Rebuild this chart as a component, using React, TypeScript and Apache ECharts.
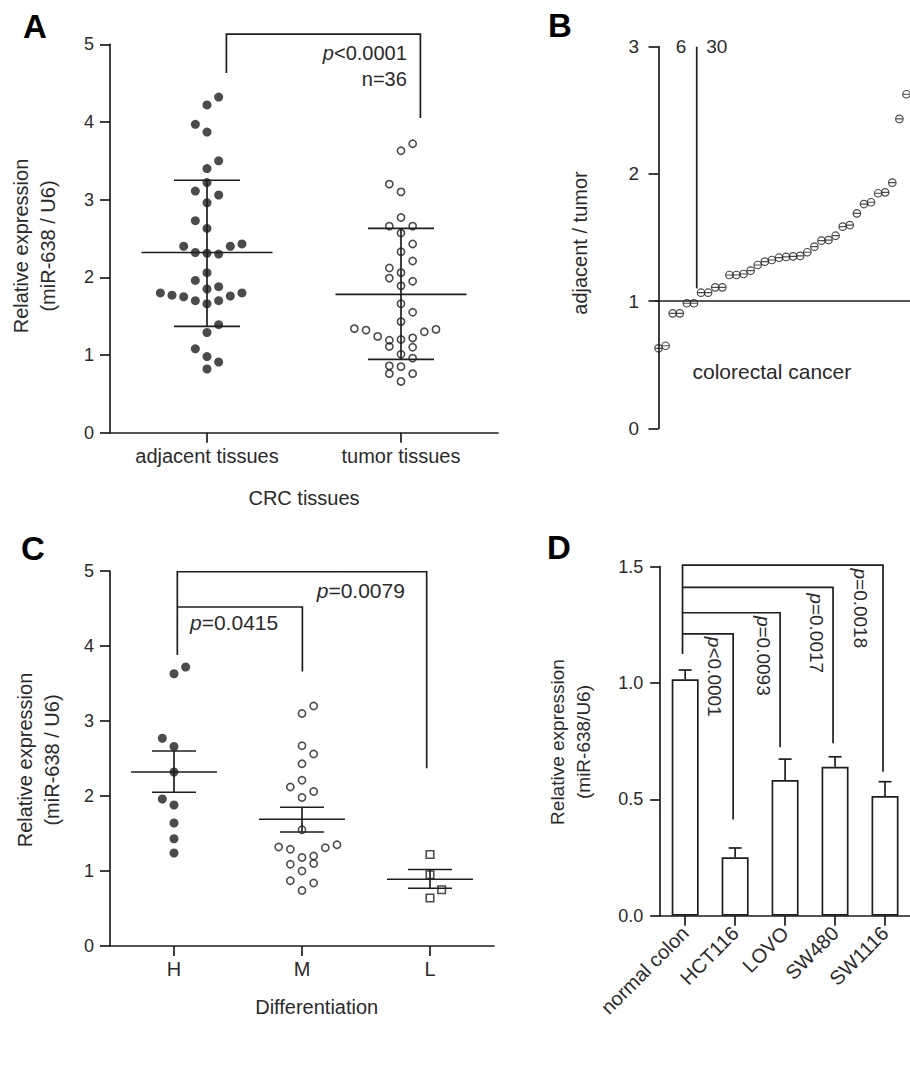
import React, { useEffect, useRef } from "react";
import * as echarts from "echarts";

const FONT = '"Liberation Sans", Arial, Helvetica, sans-serif';
const INK = "#1e1e1e";
const TXT = "#2a2a2a";

// ---------- Panel A ----------
const aCategories = ["adjacent tissues", "tumor tissues"];
const aAdjacentValues = [4.32, 4.22, 3.97, 3.87, 3.5, 3.4, 3.22, 3.11, 3.06, 2.96, 2.73, 2.63, 2.4, 2.4, 2.43, 2.32, 2.31, 2.3, 2.06, 1.96, 1.88, 1.85, 1.8, 1.77, 1.75, 1.7, 1.66, 1.7, 1.76, 1.8, 1.39, 1.29, 1.08, 0.98, 0.91, 0.82];
const aAdjacentLanes = [1, 0, -1, 0, 1, 0, 0, -1, 1, 0, -1, 0, -2, 2, 3, -1, 0, 1, 0, -1, 1, 0, -4, -3, -2, -1, 0, 1, 2, 3, 1, 0, -1, 0, 1, 0];
const aTumorValues = [3.72, 3.63, 3.2, 3.1, 2.77, 2.66, 2.66, 2.57, 2.43, 2.33, 2.21, 2.12, 2.06, 1.99, 1.95, 1.89, 1.66, 1.55, 1.43, 1.34, 1.32, 1.24, 1.19, 1.2, 1.22, 1.3, 1.33, 1.11, 1.1, 1.01, 0.96, 0.86, 0.85, 0.76, 0.76, 0.66];
const aTumorLanes = [1, 0, -1, 0, 0, -1, 1, 0, 1, 0, 1, -1, 0, -1, 1, 0, 0, 1, 0, -4, -3, -2, -1, 0, 1, 2, 3, -1, 1, 0, 1, -1, 0, -1, 1, 0];
const aMean = [2.32, 1.78];
const aLow = [1.37, 0.945];
const aHigh = [3.25, 2.63];
const aBrackets = [[[0.6, 4.63], [0.6, 5.13], [1.6, 5.13], [1.6, 4.05]]];
const aNoteTexts = ["{i|p}<0.0001", "n=36"];
const aNotePos = [[1.53, 4.89], [1.53, 4.55]];

// ---------- Panel B ----------
const bRatios = [0.629, 0.649, 0.904, 0.904, 0.983, 0.983, 1.066, 1.066, 1.108, 1.108, 1.205, 1.205, 1.213, 1.239, 1.284, 1.31, 1.323, 1.341, 1.347, 1.352, 1.355, 1.384, 1.428, 1.475, 1.48, 1.514, 1.585, 1.598, 1.69, 1.763, 1.777, 1.848, 1.855, 1.931, 2.432, 2.626];
const bDivider = [[[5.39, 3.0], [5.39, 1.1]]];
const bNoteTexts = ["6", "30", "colorectal cancer"];
const bNotePos = [[3.17, 3.0], [8.21, 3.0], [16.0, 0.445]];
const bNoteSizes = [19, 19, 21];

// ---------- Panel C ----------
const cCategories = ["H", "M", "L"];
const cHValues = [3.72, 3.63, 2.77, 2.66, 2.32, 1.96, 1.88, 1.64, 1.43, 1.24];
const cHLanes = [1, 0, -1, 0, 0, -1, 0, 0, 0, 0];
const cMValues = [3.2, 3.1, 2.67, 2.56, 2.43, 2.21, 2.12, 2.06, 1.98, 1.55, 1.32, 1.29, 1.18, 1.2, 1.31, 1.35, 1.09, 1.1, 1.0, 0.87, 0.84, 0.74];
const cMLanes = [1, 0, 0, 1, 0, 0, -1, 1, 0, 0, -2, -1, 0, 1, 2, 3, -1, 1, 0, -1, 1, 0];
const cLValues = [1.22, 0.95, 0.75, 0.64];
const cLLanes = [0, 0, 1, 0];
const cMean = [2.32, 1.69, 0.89];
const cLow = [2.05, 1.52, 0.77];
const cHigh = [2.6, 1.85, 1.02];
const cBrackets = [
  [[0.526, 3.88], [0.526, 4.99], [2.474, 4.99], [2.474, 2.37]],
  [[0.526, 4.52], [1.503, 4.52], [1.503, 3.66]],
];
const cNoteTexts = ["{i|p}=0.0415", "{i|p}=0.0079"];
const cNotePos = [[0.625, 4.31], [1.615, 4.74]];

// ---------- Panel D ----------
const dCategories = ["normal colon", "HCT116", "LOVO", "SW480", "SW1116"];
const dValues = [1.016, 0.251, 0.583, 0.64, 0.514];
const dErrors = [0.04, 0.04, 0.09, 0.043, 0.062];
const dBrackets = [
  [[0.447, 1.125], [0.447, 1.507], [4.46, 1.507], [4.46, 0.619]],
  [[0.447, 1.411], [3.46, 1.411], [3.46, 0.741]],
  [[0.447, 1.302], [2.4, 1.302], [2.4, 0.724]],
  [[0.447, 1.211], [1.46, 1.211], [1.46, 0.414]],
];
const dNoteTexts = ["{i|p}<0.0001", "{i|p}=0.0093", "{i|p}=0.0017", "{i|p}=0.0018"];
const dNotePos = [[1.093, 1.027], [2.07, 1.117], [3.12, 1.214], [4.0, 1.321]];

// ---------- helpers ----------
const lineStyle = { color: INK, width: 1.7 };

function yAxisDef(gridIndex: number, max: number, interval: number, fontSize: number, margin: number, formatter?: any) {
  return {
    type: "value",
    gridIndex,
    min: 0,
    max,
    interval,
    axisLine: { show: true, lineStyle },
    axisTick: { show: true, length: 10, lineStyle },
    axisLabel: { fontSize, color: TXT, fontFamily: FONT, margin, formatter },
    splitLine: { show: false },
  };
}

function catAxisDef(gridIndex: number, data: string[], fontSize: number, margin: number, rotate = 0) {
  return {
    type: "category",
    gridIndex,
    data,
    boundaryGap: true,
    axisLine: { show: true, lineStyle },
    axisTick: { show: true, alignWithLabel: true, length: 10, lineStyle },
    axisLabel: { fontSize, color: TXT, fontFamily: FONT, margin, rotate, interval: 0 },
    splitLine: { show: false },
  };
}

function hiddenX(gridIndex: number, min: number, max: number) {
  return { type: "value", gridIndex, min, max, show: false, splitLine: { show: false } };
}

function swarm(values: number[], lanes: number[], center: number, laneWidth: number) {
  return values.map((v, i) => [center + lanes[i] * laneWidth, v]);
}

function statsSeries(xAxisIndex: number, yAxisIndex: number, mean: number[], low: number[], high: number[], meanHalf: number, barHalf: number) {
  return {
    type: "custom",
    xAxisIndex,
    yAxisIndex,
    silent: true,
    z: 5,
    data: mean.map((m, i) => [i + 0.5, m, low[i], high[i]]),
    renderItem: (params: any, api: any) => {
      const x = api.value(0);
      const pm = api.coord([x, api.value(1)]);
      const pl = api.coord([x, api.value(2)]);
      const ph = api.coord([x, api.value(3)]);
      const st = { stroke: INK, lineWidth: 1.7 };
      return {
        type: "group",
        children: [
          { type: "line", shape: { x1: pm[0] - meanHalf, y1: pm[1], x2: pm[0] + meanHalf, y2: pm[1] }, style: st },
          { type: "line", shape: { x1: pl[0] - barHalf, y1: pl[1], x2: pl[0] + barHalf, y2: pl[1] }, style: st },
          { type: "line", shape: { x1: ph[0] - barHalf, y1: ph[1], x2: ph[0] + barHalf, y2: ph[1] }, style: st },
          { type: "line", shape: { x1: pl[0], y1: pl[1], x2: ph[0], y2: ph[1] }, style: st },
        ],
      };
    },
  };
}

function bracketSeries(xAxisIndex: number, yAxisIndex: number, brackets: number[][][]) {
  return {
    type: "custom",
    xAxisIndex,
    yAxisIndex,
    silent: true,
    z: 6,
    data: brackets.map((b) => b[0]),
    renderItem: (params: any, api: any) => {
      const pts = brackets[params.dataIndex].map((p) => api.coord(p));
      return { type: "polyline", shape: { points: pts }, style: { fill: "none", stroke: INK, lineWidth: 1.7 } };
    },
  };
}

function noteSeries(xAxisIndex: number, yAxisIndex: number, texts: string[], pos: number[][], sizes: number[], align: string, rotation: number) {
  return {
    type: "custom",
    xAxisIndex,
    yAxisIndex,
    silent: true,
    z: 7,
    data: pos,
    renderItem: (params: any, api: any) => {
      const i = params.dataIndex;
      const p = api.coord(pos[i]);
      const fs = sizes[i];
      return {
        type: "text",
        x: p[0],
        y: p[1],
        rotation,
        style: {
          text: texts[i],
          fontSize: fs,
          fontFamily: FONT,
          fill: TXT,
          align,
          verticalAlign: "middle",
          rich: { i: { fontStyle: "italic", fontSize: fs, fontFamily: FONT, fill: TXT } },
        },
      };
    },
  };
}

function gText(text: string, x: number, y: number, fontSize: number, rotation = 0, bold = false, lineHeight?: number) {
  return {
    type: "text",
    x,
    y,
    rotation,
    silent: true,
    style: {
      text,
      fontSize,
      fontFamily: FONT,
      fontWeight: bold ? "bold" : "normal",
      fill: bold ? "#000" : TXT,
      align: "center",
      verticalAlign: "middle",
      lineHeight: lineHeight || fontSize * 1.2,
    },
  };
}

const openItem = { color: "rgba(255,255,255,0)", borderColor: INK, borderWidth: 1.6 };
const B_SYMBOL = "path://M1,5A4,4 0 1,0 9,5A4,4 0 1,0 1,5ZM1,5L9,5";

const option: any = {
  animation: false,
  backgroundColor: "#fff",
  grid: [
    { left: 110, top: 44.3, width: 388, height: 388.4 },
    { left: 655, top: 46.7, width: 255, height: 381.6 },
    { left: 110, top: 571, width: 384, height: 375 },
    { left: 660.2, top: 566.7, width: 258.5, height: 349 },
  ],
  xAxis: [
    catAxisDef(0, aCategories, 20, 13),
    hiddenX(0, 0, 2),
    hiddenX(1, -0.5, 35.5),
    catAxisDef(2, cCategories, 20, 13),
    hiddenX(2, 0, 3),
    catAxisDef(3, dCategories, 20, 14, 45),
    hiddenX(3, 0, 5),
  ],
  yAxis: [
    yAxisDef(0, 5, 1, 18, 16),
    yAxisDef(1, 3, 1, 19, 16),
    yAxisDef(2, 5, 1, 18, 16),
    yAxisDef(3, 1.5, 0.5, 18, 17, (v: number) => v.toFixed(1)),
  ],
  graphic: [
    gText("A", 35, 26, 33, 0, true),
    gText("B", 560, 25, 33, 0, true),
    gText("C", 33, 548, 33, 0, true),
    gText("D", 559, 547, 33, 0, true),
    gText("Relative expression\n(miR-638 / U6)", 34.5, 246, 20, Math.PI / 2, false, 27.6),
    gText("CRC tissues", 304, 498, 20),
    gText("adjacent / tumor", 580, 243, 20, Math.PI / 2),
    gText("Relative expression\n(miR-638 / U6)", 38.3, 760, 20, Math.PI / 2, false, 26.7),
    gText("Differentiation", 316.7, 1006.7, 20),
    gText("Relative expression\n(miR-638/U6)", 570, 742, 19, Math.PI / 2, false, 26),
  ],
  series: [
    // Panel A
    {
      type: "scatter",
      xAxisIndex: 1,
      yAxisIndex: 0,
      symbol: "circle",
      symbolSize: 9,
      itemStyle: { color: INK },
      data: swarm(aAdjacentValues, aAdjacentLanes, 0.5, 0.0601),
    },
    {
      type: "scatter",
      xAxisIndex: 1,
      yAxisIndex: 0,
      symbol: "circle",
      symbolSize: 7.2,
      itemStyle: openItem,
      data: swarm(aTumorValues, aTumorLanes, 1.5, 0.0601),
    },
    statsSeries(1, 0, aMean, aLow, aHigh, 65.5, 33),
    bracketSeries(1, 0, aBrackets),
    noteSeries(1, 0, aNoteTexts, aNotePos, [20, 20], "right", 0),
    // Panel B
    {
      type: "scatter",
      xAxisIndex: 2,
      yAxisIndex: 1,
      symbol: B_SYMBOL,
      symbolSize: 7.5,
      itemStyle: { color: "rgba(255,255,255,0)", borderColor: INK, borderWidth: 1.2 },
      data: bRatios.map((v, i) => [i, v]),
      markLine: {
        silent: true,
        symbol: ["none", "none"],
        label: { show: false },
        lineStyle: { type: "solid", color: INK, width: 1.7 },
        data: [{ yAxis: 1 }],
      },
    },
    bracketSeries(2, 1, bDivider),
    noteSeries(2, 1, bNoteTexts, bNotePos, bNoteSizes, "center", 0),
    // Panel C
    {
      type: "scatter",
      xAxisIndex: 4,
      yAxisIndex: 2,
      symbol: "circle",
      symbolSize: 9,
      itemStyle: { color: INK },
      data: swarm(cHValues, cHLanes, 0.5, 0.0911),
    },
    {
      type: "scatter",
      xAxisIndex: 4,
      yAxisIndex: 2,
      symbol: "circle",
      symbolSize: 7.2,
      itemStyle: openItem,
      data: swarm(cMValues, cMLanes, 1.5, 0.0911),
    },
    {
      type: "scatter",
      xAxisIndex: 4,
      yAxisIndex: 2,
      symbol: "rect",
      symbolSize: 7.5,
      itemStyle: openItem,
      data: swarm(cLValues, cLLanes, 2.5, 0.0911),
    },
    statsSeries(4, 2, cMean, cLow, cHigh, 43, 22),
    bracketSeries(4, 2, cBrackets),
    noteSeries(4, 2, cNoteTexts, cNotePos, [21, 21], "left", 0),
    // Panel D
    {
      type: "bar",
      xAxisIndex: 5,
      yAxisIndex: 3,
      barWidth: 27,
      itemStyle: { color: "#fff", borderColor: INK, borderWidth: 1.7 },
      data: dValues,
    },
    {
      type: "custom",
      xAxisIndex: 6,
      yAxisIndex: 3,
      silent: true,
      z: 5,
      data: dValues.map((v, i) => [i + 0.5, v, v + dErrors[i]]),
      renderItem: (params: any, api: any) => {
        const x = api.value(0);
        const pb = api.coord([x, api.value(1)]);
        const pt = api.coord([x, api.value(2)]);
        const st = { stroke: INK, lineWidth: 1.7 };
        return {
          type: "group",
          children: [
            { type: "line", shape: { x1: pb[0], y1: pb[1], x2: pt[0], y2: pt[1] }, style: st },
            { type: "line", shape: { x1: pt[0] - 6.5, y1: pt[1], x2: pt[0] + 6.5, y2: pt[1] }, style: st },
          ],
        };
      },
    },
    bracketSeries(6, 3, dBrackets),
    noteSeries(6, 3, dNoteTexts, dNotePos, [19, 19, 19, 19], "center", -Math.PI / 2),
  ],
};

export default function App() {
  const ref = useRef<HTMLDivElement>(null);
  useEffect(() => {
    if (!ref.current) return;
    const chart = echarts.init(ref.current, null, { renderer: "svg" });
    chart.setOption(option);
    return () => chart.dispose();
  }, []);
  return (
    <div
      ref={ref}
      style={{ position: "absolute", left: 0, top: 0, width: 910, height: 1082, background: "#fff" }}
    />
  );
}
